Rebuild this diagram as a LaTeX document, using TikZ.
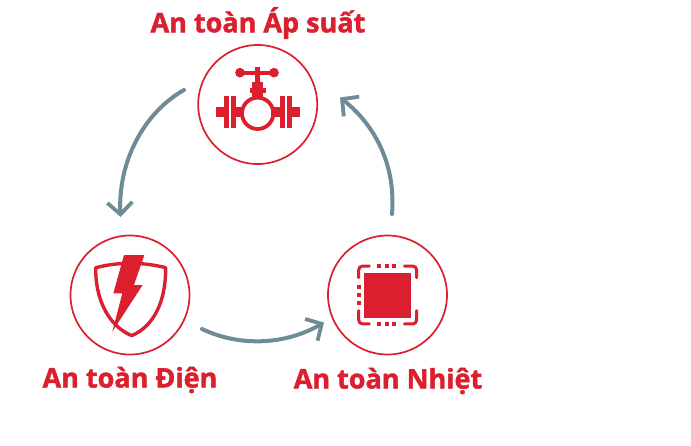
\documentclass[tikz,border=0pt]{standalone}
\usepackage{fontspec}
\setmainfont{Open Sans}[BoldFeatures={FakeBold=1.6}]
\usepackage{xcolor}
\usetikzlibrary{arrows.meta}
\definecolor{safered}{HTML}{DB1F2E}
\definecolor{arrowgrey}{HTML}{6F8B98}
\tikzset{
	ring/.style={circle, draw=safered, line width=1.7pt, minimum size=119pt, inner sep=0},
	caption/.style={text=safered, font=\bfseries\fontsize{27}{30}\selectfont, inner sep=0},
	cycle/.style={draw=arrowgrey, line width=4pt, line cap=round, -{Straight Barb[length=12pt, width=25pt, line width=3.8pt]}},
	icon/.style={fill=safered, draw=none},
	iconline/.style={draw=safered, line cap=round}
}
\begin{document}
\begin{tikzpicture}[x=1pt, y=-1pt]
	\useasboundingbox (0,0) rectangle (691,445);
	\node[ring] (pressure) at(257.7,104.5) {};
	\node[ring] (electric) at(130,295) {};
	\node[ring] (thermal) at(387.5,295) {};
	\node[caption] (pressurelabel) at(258,23) {An toàn Áp suất};
	\node[caption] (electriclabel) at(130,380) {An toàn Điện};
	\node[caption] (thermallabel) at(388,381) {An toàn Nhiệt};
	\coordinate (a1) at(184,90);
	\coordinate (a2) at(120.5,217);
	\coordinate (b1) at(202,329);
	\coordinate (b2) at(324,322.5);
	\coordinate (c1) at(392,214);
	\coordinate (c2) at(340,97.5);
	\draw[cycle] (a1) .. controls (145,112) and (118,160) .. (a2);
	\draw[cycle] (b1) .. controls (240,347) and (285,345) .. (b2);
	\draw[cycle] (c1) .. controls (396,165) and (375,125) .. (c2);
	% valve
	\begin{scope}[shift={(190,45)}, x=0.3333pt, y=-0.3333pt]
		\draw[iconline, line width=3.8pt] (203,205) circle (47);
		\fill[icon] (150,83) circle (14.5) (252,83) circle (14.5);
		\fill[icon] (150,77) rectangle (252,89);
		\fill[icon] (195,66) rectangle (211,160);
		\fill[icon] (180,130) rectangle (228,143);
		\fill[icon] (187,112) rectangle (219,160);
		\foreach \x/\w in {103/15,122/16,270/16,290/15} {
			\fill[icon] (\x,153) rectangle (\x+\w,250);
		};
		\foreach \x/\w in {78/26,137/25,243/28,304/26} {
			\fill[icon] (\x,185) rectangle (\x+\w,217);
		};
	\end{scope}
	% shield
	\begin{scope}[shift={(60,230)}, x=0.3333pt, y=-0.3333pt]
		\draw[draw=safered, line width=3.4pt, line join=round]
			(107,113) .. controls (140,105) and (170,100) .. (212,100)
			.. controls (250,100) and (285,105) .. (317,113)
			.. controls (318,200) and (290,285) .. (215,317)
			.. controls (140,285) and (106,200) .. (107,113) -- cycle;
		\fill[icon] (192,75) -- (253,75) -- (222,165) -- (248,165) -- (157,305) -- (187,190) -- (160,190) -- cycle;
	\end{scope}
	% chip
	\begin{scope}[shift={(320,230)}, x=0.3333pt, y=-0.3333pt]
		\fill[icon] (133,130) rectangle (273,263);
		\draw[iconline, line width=3pt, rounded corners=4pt]
			(116,143) |- (148,108)
			(253,108) -| (290,143)
			(116,242) |- (148,282)
			(253,282) -| (290,242);
		\foreach \x in {172,194,216} {
			\fill[icon] (\x,103) rectangle (\x+12,113);
			\fill[icon] (\x,277) rectangle (\x+12,287);
		};
		\foreach \y in {165,189,213} {
			\fill[icon] (111,\y) rectangle (122,\y+12);
		};
	\end{scope}
\end{tikzpicture}
\end{document}
